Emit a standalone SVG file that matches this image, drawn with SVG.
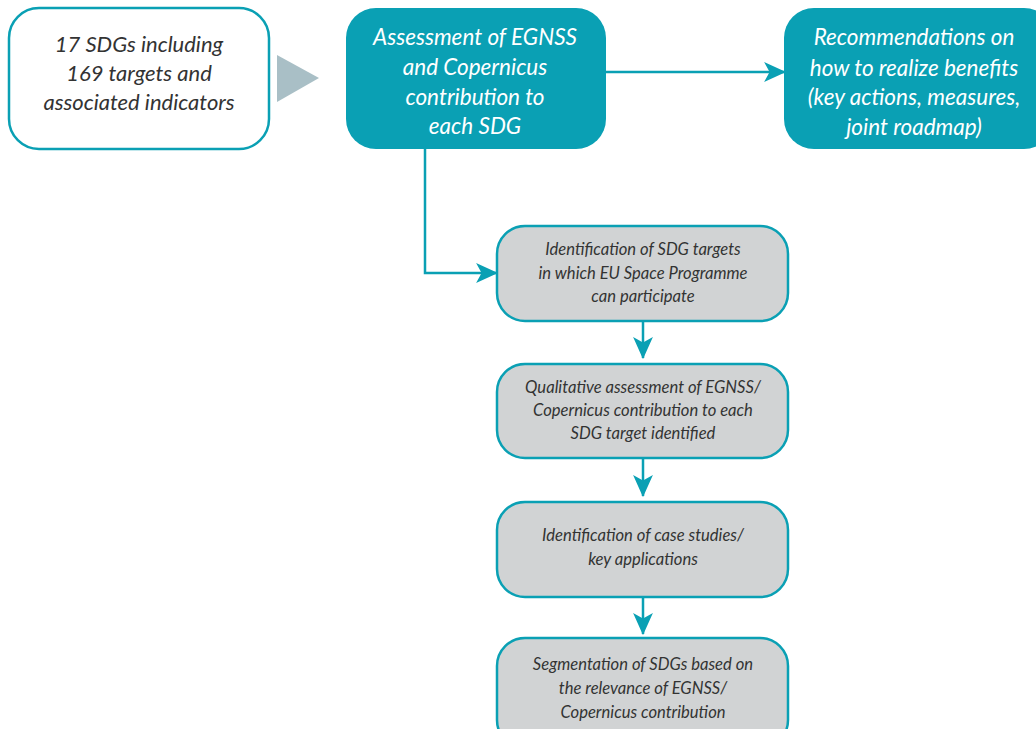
<svg xmlns="http://www.w3.org/2000/svg" width="1036" height="729" viewBox="0 0 1036 729">
<style>
.tb{fill:#0aa0b4;stroke:none}
.wb{fill:#ffffff;stroke:#0aa0b4;stroke-width:2.5}
.gb{fill:#d1d3d4;stroke:#0aa0b4;stroke-width:2.5}
.t{font-family:Lato,"Open Sans",sans-serif;font-style:italic;text-anchor:middle}
.big{font-size:22.5px}
.sm{font-size:16.6px;fill:#333333}
.dk{fill:#333333}
.wt{fill:#ffffff}
.c{fill:none;stroke:#0aa0b4;stroke-width:2.5}
</style>
<defs>
<marker id="ah" viewBox="0 0 20 20" refX="19" refY="10" markerWidth="22" markerHeight="22" markerUnits="userSpaceOnUse" orient="auto">
<path d="M0,1 L20,10 L0,19 L5,10 Z" fill="#0aa0b4"/>
</marker>
</defs>
<rect width="1036" height="729" fill="#ffffff"/>
<g id="connectors">
<path class="c" d="M606,72 H785" marker-end="url(#ah)"/>
<path class="c" d="M425,149 V273 H497" marker-end="url(#ah)"/>
<path class="c" d="M643,321 V358" marker-end="url(#ah)"/>
<path class="c" d="M643,458 V496" marker-end="url(#ah)"/>
<path class="c" d="M643,597 V634" marker-end="url(#ah)"/>
<polygon points="277,55 319,78 277,102" fill="#a9bfc6"/>
</g>
<g id="n1">
<rect class="wb" x="9" y="8" width="260" height="141" rx="30"/>
<text class="t big dk" x="139" y="52" style="font-size:22px">17 SDGs including</text>
<text class="t big dk" x="139" y="81" style="font-size:22px">169 targets and</text>
<text class="t big dk" x="139" y="110" style="font-size:22px">associated indicators</text>
</g>
<g id="n2">
<rect class="tb" x="346" y="8" width="260" height="141" rx="30"/>
<text class="t big wt" x="475" y="45">Assessment of EGNSS</text>
<text class="t big wt" x="475" y="75">and Copernicus</text>
<text class="t big wt" x="475" y="105">contribution to</text>
<text class="t big wt" x="475" y="134">each SDG</text>
</g>
<g id="n3">
<rect class="tb" x="784" y="8" width="270" height="141" rx="30"/>
<text class="t big wt" x="914" y="45">Recommendations on</text>
<text class="t big wt" x="914" y="76">how to realize benefits</text>
<text class="t big wt" x="914" y="105">(key actions, measures,</text>
<text class="t big wt" x="914" y="135">joint roadmap)</text>
</g>
<g id="n4">
<rect class="gb" x="497" y="226" width="291" height="95" rx="28"/>
<text class="t sm" x="643" y="255">Identification of SDG targets</text>
<text class="t sm" x="643" y="279">in which EU Space Programme</text>
<text class="t sm" x="643" y="302">can participate</text>
</g>
<g id="n5">
<rect class="gb" x="497" y="364" width="291" height="94" rx="28"/>
<text class="t sm" x="643" y="393">Qualitative assessment of EGNSS/</text>
<text class="t sm" x="643" y="416">Copernicus contribution to each</text>
<text class="t sm" x="643" y="439">SDG target identified</text>
</g>
<g id="n6">
<rect class="gb" x="497" y="502" width="291" height="95" rx="28"/>
<text class="t sm" x="643" y="541">Identification of case studies/</text>
<text class="t sm" x="643" y="565">key applications</text>
</g>
<g id="n7">
<rect class="gb" x="497" y="638" width="291" height="110" rx="28"/>
<text class="t sm" x="643" y="670">Segmentation of SDGs based on</text>
<text class="t sm" x="643" y="694">the relevance of EGNSS/</text>
<text class="t sm" x="643" y="718">Copernicus contribution</text>
</g>
</svg>
